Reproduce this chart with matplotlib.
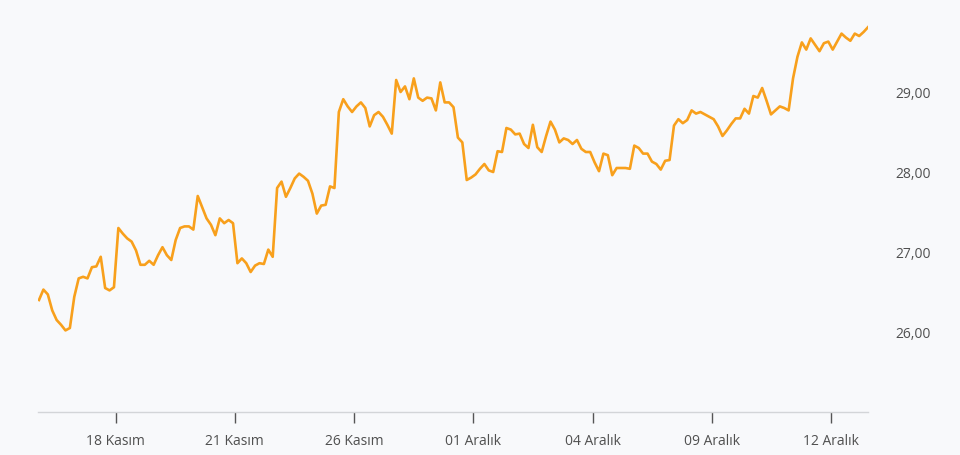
import matplotlib.pyplot as plt
from matplotlib.ticker import FuncFormatter

fs = 10
bg = '#F8F9FB'
line_c = '#F8A01C'
text_c = '#505050'

# price series (one value per step)
prices = [
    26.40, 26.53, 26.47, 26.27, 26.15, 26.09, 26.02, 26.05, 26.44, 26.67,
    26.69, 26.67, 26.81, 26.82, 26.94, 26.55, 26.52, 26.56, 27.30, 27.23,
    27.17, 27.13, 27.02, 26.84, 26.84, 26.89, 26.84, 26.96, 27.06, 26.96,
    26.90, 27.15, 27.30, 27.32, 27.32, 27.28, 27.70, 27.56, 27.42, 27.34,
    27.21, 27.42, 27.36, 27.40, 27.36, 26.86, 26.92, 26.86, 26.75, 26.83,
    26.86, 26.85, 27.03, 26.94, 27.80, 27.88, 27.69, 27.80, 27.92, 27.98,
    27.94, 27.89, 27.73, 27.48, 27.58, 27.59, 27.82, 27.80, 28.75, 28.91,
    28.82, 28.75, 28.82, 28.87, 28.80, 28.57, 28.71, 28.75, 28.69, 28.59,
    28.48, 29.15, 29.00, 29.07, 28.91, 29.17, 28.93, 28.89, 28.93, 28.92,
    28.77, 29.12, 28.87, 28.87, 28.81, 28.43, 28.37, 27.90, 27.93, 27.97,
    28.04, 28.10, 28.02, 28.00, 28.26, 28.25, 28.55, 28.53, 28.47, 28.48,
    28.35, 28.30, 28.59, 28.31, 28.25, 28.45, 28.63, 28.53, 28.37, 28.42,
    28.40, 28.35, 28.40, 28.29, 28.25, 28.25, 28.12, 28.01, 28.23, 28.21,
    27.96, 28.05, 28.05, 28.05, 28.04, 28.33, 28.30, 28.23, 28.23, 28.13,
    28.10, 28.03, 28.14, 28.15, 28.58, 28.66, 28.61, 28.65, 28.77, 28.73,
    28.75, 28.72, 28.69, 28.66, 28.57, 28.45, 28.52, 28.60, 28.67, 28.67,
    28.79, 28.73, 28.95, 28.93, 29.05, 28.89, 28.72, 28.77, 28.82, 28.80,
    28.77, 29.17, 29.44, 29.62, 29.53, 29.67, 29.59, 29.51, 29.61, 29.63,
    29.53, 29.63, 29.73, 29.68, 29.64, 29.73, 29.70, 29.75, 29.81,
]

date_labels = ['18 Kasım', '21 Kasım', '26 Kasım', '01 Aralık',
               '04 Aralık', '09 Aralık', '12 Aralık']
y_ticks = [26, 27, 28, 29]

plt.rcParams['font.family'] = ['Open Sans', 'DejaVu Sans']

fig = plt.figure(figsize=(9.6, 4.55), dpi=100)
fig.patch.set_facecolor(bg)
ax = fig.add_axes([38 / 960, 43 / 455, 830 / 960, 400 / 455])
ax.set_facecolor(bg)

xs = range(len(prices))
ax.plot(xs, prices, color=line_c, lw=1.9, solid_joinstyle='round')

n = len(prices)
step = (n - 1) / 830 * 119.4
first = (115.7 - 39) / 830 * (n - 1)
ax.set_xlim(-1 / 830 * (n - 1), n - 1)
ax.set_xticks([first + i * step for i in range(len(date_labels))])
ax.set_xticklabels(date_labels, fontsize=fs, color=text_c)
ax.tick_params(axis='x', length=8, width=1, color='#555555', pad=7.5)

ax.set_ylim(25, 30)
ax.yaxis.tick_right()
ax.set_yticks(y_ticks)
ax.yaxis.set_major_formatter(FuncFormatter(lambda v, p: f'{v:.2f}'.replace('.', ',')))
ax.tick_params(axis='y', length=0, pad=20, labelsize=fs, labelcolor=text_c)
for lab in ax.get_yticklabels():
    lab.set_horizontalalignment('left')

for s in ['top', 'left', 'right']:
    ax.spines[s].set_visible(False)
ax.spines['bottom'].set_color('#D3D5D8')
ax.spines['bottom'].set_linewidth(1)

fig.savefig('out.png', dpi=100, facecolor=bg)
